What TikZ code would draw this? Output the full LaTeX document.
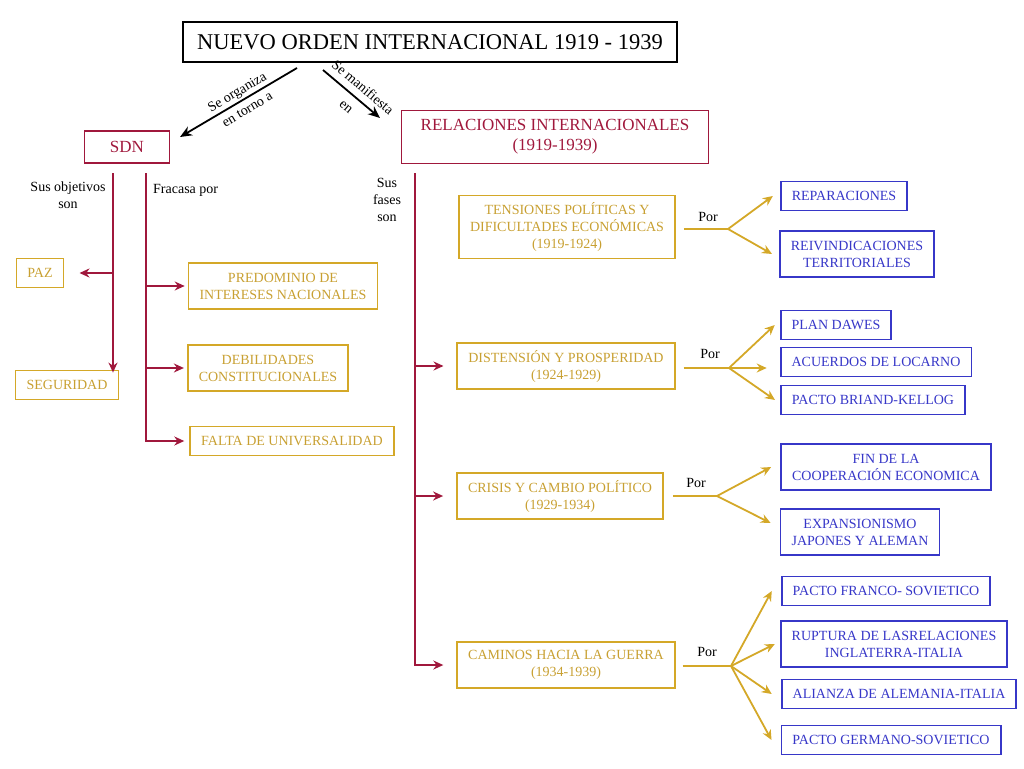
\documentclass[tikz,border=0pt]{standalone}
\usepackage{fontspec}
\setmainfont{Liberation Serif}
\usetikzlibrary{arrows.meta,calc}

\definecolor{sdnred}{RGB}{160,24,60}
\definecolor{fasegold}{RGB}{212,168,40}
\definecolor{fasetext}{RGB}{200,160,50}
\definecolor{causeblue}{RGB}{55,55,200}

\begin{document}
\begin{tikzpicture}[x=1pt,y=-1pt,
    every node/.style={font=\fontsize{14}{17}\selectfont, align=center},
    redbox/.style={shape=rectangle, draw=sdnred, text=sdnred, line width=1.8pt},
    phasebox/.style={shape=rectangle, draw=fasegold, text=fasetext, line width=1.8pt, inner xsep=11pt},
    causebox/.style={shape=rectangle, draw=causeblue, text=causeblue, line width=1.8pt, inner xsep=11pt},
    one/.style={minimum height=29pt, inner ysep=2pt},
    two/.style={minimum height=46pt, inner ysep=2pt},
    three/.style={minimum height=63pt, inner ysep=2pt},
    redarrow/.style={draw=sdnred, line width=1.8pt, -{Stealth[length=10pt,width=9pt]}},
    goldline/.style={draw=fasegold, line width=1.8pt},
    goldarrow/.style={goldline, -{Stealth[length=10pt,width=9pt]}},
    blackarrow/.style={draw=black, line width=1.8pt, -{Stealth[length=12pt,width=10pt]}},
    slopelabel/.style={sloped, anchor=center}]
    \useasboundingbox (0,0) rectangle (1024,768);

    \node[shape=rectangle, draw=black, line width=1.8pt, minimum width=494pt, minimum height=40pt, font=\fontsize{22.5}{26}\selectfont] (TITLE) at (430,42) {NUEVO ORDEN INTERNACIONAL 1919 - 1939};
    \node[redbox, minimum width=85pt, minimum height=32pt, font=\fontsize{17}{20}\selectfont] (SDN) at (127,147) {SDN};
    \node[redbox, minimum width=307pt, minimum height=53pt, font=\fontsize{17}{20}\selectfont] (RI) at (555,137) {RELACIONES INTERNACIONALES\\(1919-1939)};

    \coordinate (LEFTSTART)  at (297,68);
    \coordinate (LEFTEND)    at (180,137);
    \coordinate (RIGHTSTART) at (323,70);
    \coordinate (RIGHTEND)   at (380,118);
    \draw [blackarrow] (LEFTSTART) -- node[slopelabel, pos=0.47, font=\fontsize{14}{20}\selectfont] {Se organiza\\en torno a} (LEFTEND);
    \draw [blackarrow] (RIGHTSTART) -- node[slopelabel, pos=0.56, font=\fontsize{14}{25}\selectfont] {Se manifiesta\\en} (RIGHTEND);

    % SDN
    \node (OBJ) at (68,195) {Sus objetivos\\son};
    \node[anchor=west, inner xsep=0pt] (FRAC) at (153,190) {Fracasa por};
    \node[phasebox, one] (PAZ) at (40,273) {PAZ};
    \node[phasebox, one] (SEG) at (67,385) {SEGURIDAD};
    \node[phasebox, two] (PRED) at (283,286) {PREDOMINIO DE\\INTERESES NACIONALES};
    \node[phasebox, two] (DEB)  at (268,368) {DEBILIDADES\\CONSTITUCIONALES};
    \node[phasebox, one] (FALTA) at (292,441) {FALTA DE UNIVERSALIDAD};

    \coordinate (OBJTOP) at (113,173);
    \coordinate (FRACTOP) at (146,173);
    \draw [redarrow] (OBJTOP) -- ([yshift=-3pt]OBJTOP |- SEG.north);
    \draw [redarrow] (OBJTOP |- PAZ.east) -- ([xshift=15pt]PAZ.east);
    \draw [redarrow] (FRACTOP) |- ([xshift=-5pt]FALTA.west);
    \draw [redarrow] (FRACTOP |- PRED.west) -- ([xshift=-3pt]PRED.west);
    \draw [redarrow] (FRACTOP |- DEB.west) -- ([xshift=-3pt]DEB.west);

    % fases
    \node (FASES) at (387,200) {Sus\\fases\\son};
    \node[phasebox, three] (TENS) at (567,227) {TENSIONES POLÍTICAS Y\\DIFICULTADES ECONÓMICAS\\(1919-1924)};
    \node[phasebox, two] (DIST) at (566,366) {DISTENSIÓN Y PROSPERIDAD\\(1924-1929)};
    \node[phasebox, two] (CRIS) at (560,496) {CRISIS Y CAMBIO POLÍTICO\\(1929-1934)};
    \node[phasebox, two] (CAM)  at (566,665) {CAMINOS HACIA LA GUERRA\\(1934-1939)};

    \coordinate (RITOP) at (415,173);
    \draw [redarrow] (RITOP) |- ([xshift=-13pt]CAM.west);
    \draw [redarrow] (RITOP |- DIST.west) -- ([xshift=-13pt]DIST.west);
    \draw [redarrow] (RITOP |- CRIS.west) -- ([xshift=-13pt]CRIS.west);

    % causas
    \node[causebox, one] (REP)  at (844,196) {REPARACIONES};
    \node[causebox, two] (REIV) at (857,254) {REIVINDICACIONES\\TERRITORIALES};
    \node[causebox, one] (DAW)  at (836,325) {PLAN DAWES};
    \node[causebox, one] (LOC)  at (876,362) {ACUERDOS DE LOCARNO};
    \node[causebox, one] (BRI)  at (873,400) {PACTO BRIAND-KELLOG};
    \node[causebox, two] (FIN)  at (886,467) {FIN DE LA\\COOPERACIÓN ECONOMICA};
    \node[causebox, two] (EXP)  at (860,532) {EXPANSIONISMO\\JAPONES Y ALEMAN};
    \node[causebox, one] (FRA)  at (886,591) {PACTO FRANCO- SOVIETICO};
    \node[causebox, two] (RUP)  at (894,644) {RUPTURA DE LASRELACIONES\\INGLATERRA-ITALIA};
    \node[causebox, one] (ALI)  at (899,694) {ALIANZA DE ALEMANIA-ITALIA};
    \node[causebox, one] (GER)  at (891,740) {PACTO GERMANO-SOVIETICO};

    \coordinate (SPLITA) at (728,229);
    \coordinate (SPLITB) at (729,368);
    \coordinate (SPLITC) at (717,496);
    \coordinate (SPLITD) at (731,666);
    \node (PORA) at (708,217) {Por};
    \node (PORB) at (710,354) {Por};
    \node (PORC) at (696,483) {Por};
    \node (PORD) at (707,652) {Por};

    \draw [goldline] ([xshift=8pt]TENS.east |- SPLITA) -- (SPLITA);
    \draw [goldarrow] (SPLITA) -- ([xshift=-7pt]REP.west);
    \draw [goldarrow] (SPLITA) -- ([xshift=-7pt]REIV.west);

    \draw [goldline] ([xshift=8pt]DIST.east |- SPLITB) -- (SPLITB);
    \draw [goldarrow] (SPLITB) -- ([xshift=-5pt]DAW.west);
    \draw [goldarrow] (SPLITB) -- ([xshift=-13pt]LOC.west |- SPLITB);
    \draw [goldarrow] (SPLITB) -- ([xshift=-5pt]BRI.west);

    \draw [goldline] ([xshift=9pt]CRIS.east |- SPLITC) -- (SPLITC);
    \draw [goldarrow] (SPLITC) -- ([xshift=-9pt]FIN.west);
    \draw [goldarrow] (SPLITC) -- ([xshift=-9pt]EXP.west |- 0,523);

    \draw [goldline] ([xshift=7pt]CAM.east |- SPLITD) -- (SPLITD);
    \draw [goldarrow] (SPLITD) -- ([xshift=-9pt]FRA.west);
    \draw [goldarrow] (SPLITD) -- ([xshift=-5pt]RUP.west);
    \draw [goldarrow] (SPLITD) -- ([xshift=-9pt]ALI.west);
    \draw [goldarrow] (SPLITD) -- ([xshift=-9pt]GER.west);
\end{tikzpicture}
\end{document}
